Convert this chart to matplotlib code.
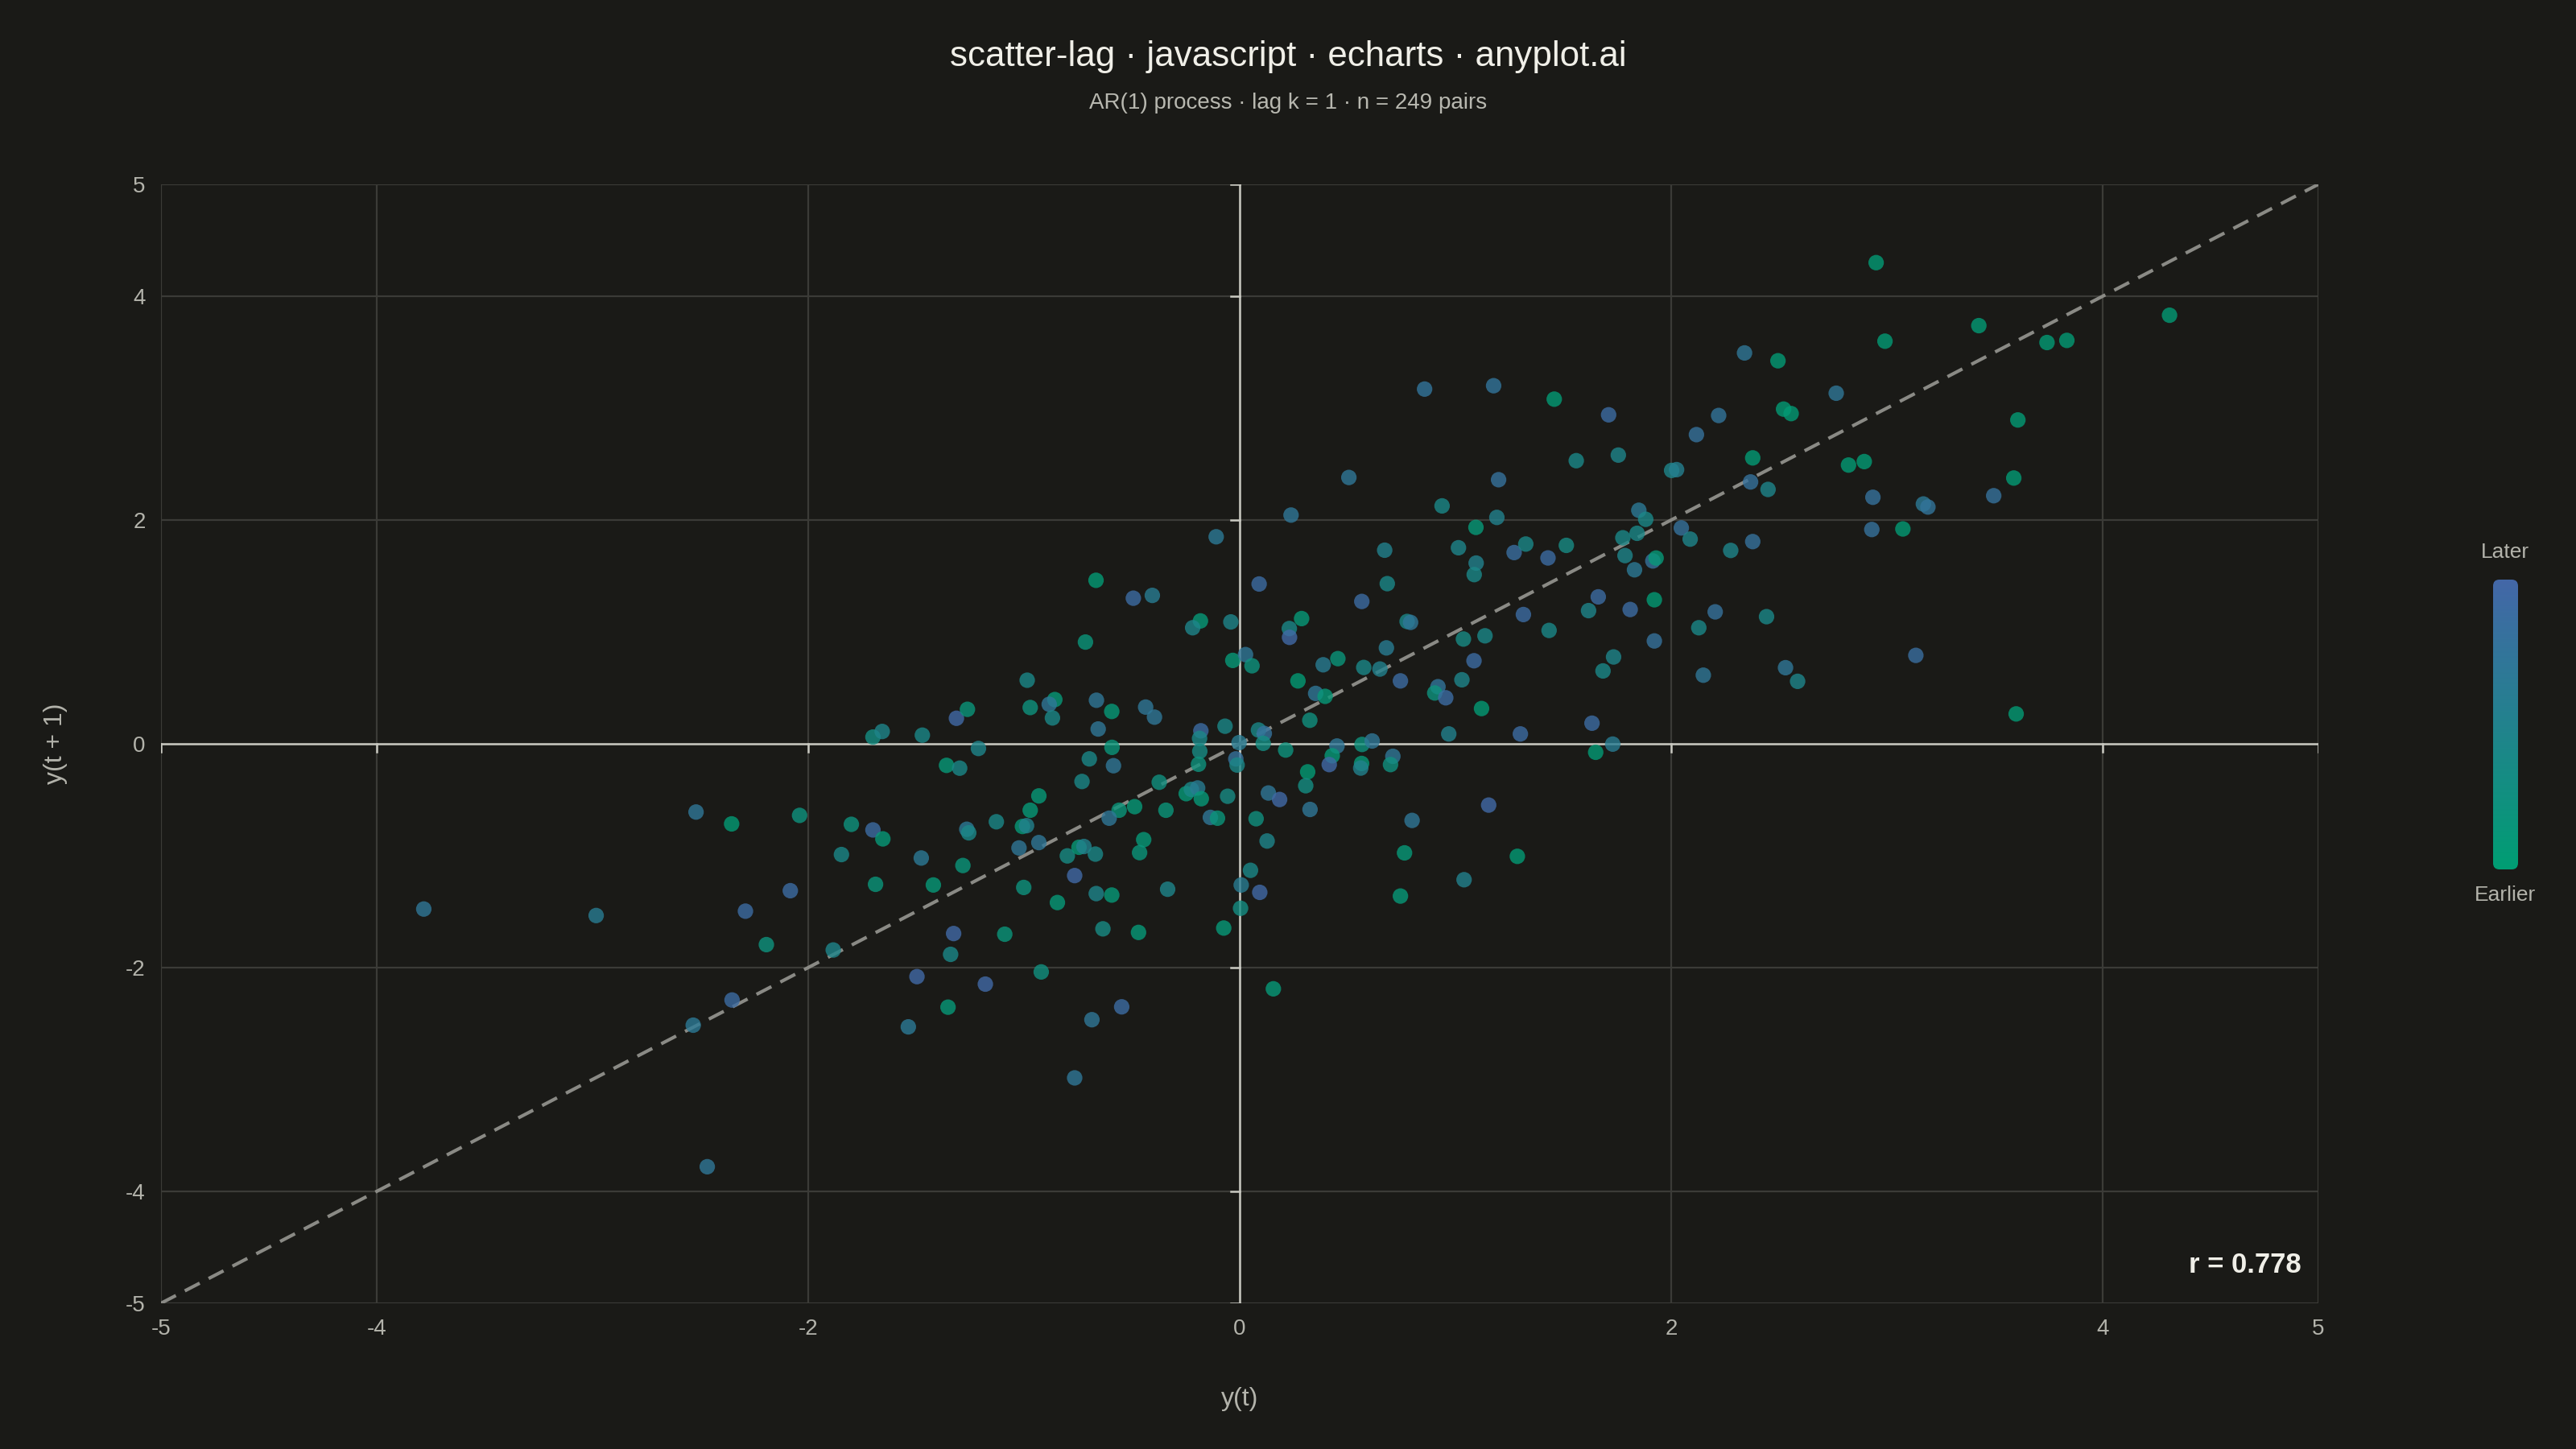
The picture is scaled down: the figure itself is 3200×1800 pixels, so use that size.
import numpy as np
import matplotlib
matplotlib.use("Agg")
import matplotlib.pyplot as plt
from matplotlib.colors import LinearSegmentedColormap
from matplotlib.patches import FancyBboxPatch

plt.rcParams['font.family'] = ['Liberation Sans', 'DejaVu Sans']

# lag pairs: y(t), y(t+1), and how late in the series (0 = earlier, 1 = later)
y_t = [
    -1.70, -1.657, -2.52, -2.355, -2.04, -1.80, -1.70, -1.654, -1.846, -1.688,
    -2.083, -2.291, -3.782, -2.983, -2.194, -1.884, -2.353, -2.533, -2.468,
    -0.109, -0.666, -0.493, -0.405, -0.182, -0.218, -0.041, -0.032, -0.715, -0.985,
    -0.971, -0.857, -0.883, -0.868, -0.664, -0.593, -0.656, -0.436, -0.395, -0.068,
    -0.180, -0.186, -0.185, -0.191, -0.003, -0.018, -0.012, -0.373, -0.248, -0.224,
    -0.195, -0.178, -0.056, -0.136, -0.103, -0.342, -0.487, -0.559, -0.605, -0.697,
    -0.731, -0.585, -0.592, -0.445, -0.464, -0.334, -0.074, 0.007, 0.004, -0.931,
    -0.971, -1.128, -1.007, -0.988, -1.023, -0.931, -0.799, -0.745, -0.722, -0.669,
    -0.765, -1.001, -0.845, -0.665, -0.593, -0.634, -0.469, -0.920, -0.685, -0.547,
    -0.765, -1.089, -1.326, -1.340, -1.496, -1.179, -1.352, -1.536, -1.476, -1.420,
    -1.283, -1.265, -1.256, -1.471, -1.313, -1.262, -1.211, -1.359, -1.298,
    0.238, 0.938, 1.192, 1.095, 0.672, 1.014, 1.272, 1.326, 1.514, 1.096,
    1.087, 1.429, 0.090, 0.684, 0.566, 0.230, 0.287, 0.231, 0.776, 0.792,
    0.027, 0.057, 0.680, 0.455, 0.387, 0.575, 0.650, 0.270, 0.352, 0.396,
    0.325, 0.745, 1.037, 1.137, 1.315, 1.086, 1.030, 0.919, 0.904, 0.955,
    1.121, 0.969, 1.301, 1.434, 1.617, 1.662, 1.810, 1.733, 1.684, 1.633,
    1.729, 1.650, 1.776, 1.786, 1.830, 1.842, 1.850, 1.882, 1.915, 1.922,
    1.922, 0.087, 0.114, 0.109, 0.213, 0.451, 0.429, 0.415, 0.567, 0.614,
    0.565, 0.561, 0.710, 0.699, 0.315, 0.306, 0.133, 0.185, 0.326, 0.076,
    0.127, 0.050, 0.093, 0.799, 0.764, 0.745, 1.040, 1.154, 1.287,
    2.991, 3.426, 3.742, 3.834, 2.340, 2.495, 2.765, 2.220, 2.521, 2.556,
    2.117, 2.378, 2.002, 2.025, 2.368, 2.449, 2.822, 2.895, 3.607, 3.588,
    3.495, 2.935, 3.169, 3.190, 2.930, 3.074, 2.047, 2.088, 2.276, 2.378,
    1.930, 2.204, 2.128, 2.442, 2.149, 2.530, 2.586, 3.134, 3.599,
    4.310, 2.950, 0.857, 1.177, 1.458, 1.710, 1.755, 1.560, 1.200, 0.506, 0.156,
]
y_next = [
    0.06, 0.11, -0.61, -0.716, -0.64, -0.72, -0.77, -0.85, -0.99, -1.256,
    -1.313, -1.496, -1.477, -1.535, -1.795, -1.843, -2.29, -2.515, -3.78,
    1.850, 1.461, 1.301, 1.326, 1.098, 1.037, 1.089, 0.745, 0.909, 0.568,
    0.324, 0.395, 0.353, 0.231, 0.389, 0.289, 0.132, 0.328, 0.238, 0.157,
    0.116, 0.048, -0.067, -0.183, 0.010, -0.135, -0.190, -0.344, -0.446, -0.408,
    -0.395, -0.491, -0.469, -0.658, -0.665, -0.594, -0.562, -0.594, -0.665, -0.135,
    -0.337, -0.196, -0.032, -0.857, -0.973, -1.300, -1.647, -1.262, -1.470, -0.466,
    -0.594, -0.697, -0.739, -0.732, -0.931, -0.883, -1.002, -0.925, -0.918, -0.986,
    -1.178, -1.284, -1.419, -1.339, -1.352, -1.654, -1.686, -2.039, -2.466, -2.351,
    -2.986, -1.702, -1.696, -1.882, -2.081, -2.148, -2.354, -2.530, -1.021, -1.262,
    -1.088, -0.764, -0.796, 0.077, 0.228, 0.308, -0.042, -0.193, -0.218,
    2.044, 2.126, 2.023, 1.934, 1.730, 1.752, 1.709, 1.785, 1.773, 1.615,
    1.512, 1.661, 1.428, 1.431, 1.272, 1.030, 1.119, 0.951, 1.093, 1.085,
    0.797, 0.697, 0.857, 0.761, 0.706, 0.682, 0.668, 0.562, 0.450, 0.424,
    0.210, 0.562, 0.936, 0.965, 1.155, 0.742, 0.572, 0.510, 0.454, 0.411,
    0.315, 0.088, 0.088, 1.013, 1.190, 1.313, 1.200, 0.776, 0.651, 0.184,
    -0.003, -0.076, 1.841, 1.682, 1.555, 1.881, 2.087, 2.006, 1.634, 1.287,
    0.919, 0.123, 0.092, 0.004, -0.056, -0.020, -0.107, -0.186, -0.006, 0.025,
    -0.176, -0.217, -0.112, -0.186, -0.251, -0.375, -0.440, -0.498, -0.587, -0.670,
    -0.869, -1.131, -1.328, -0.685, -0.975, -1.361, -1.215, -0.548, -1.006,
    3.598, 3.737, 3.586, 3.605, 3.493, 3.423, 3.133, 2.934, 2.991, 2.951,
    2.763, 2.555, 2.443, 2.450, 2.340, 2.273, 2.491, 2.522, 2.894, 2.375,
    2.217, 2.203, 2.143, 2.116, 1.915, 1.920, 1.929, 1.829, 1.728, 1.807,
    1.660, 1.179, 1.037, 1.136, 0.613, 0.680, 0.558, 0.790, 0.267,
    3.830, 4.300, 3.170, 3.200, 3.080, 2.940, 2.580, 2.530, 2.360, 2.380, -2.190,
]
time_pos = [
    0.3, 0.45, 0.7, 0.05, 0.2, 0.2, 0.9, 0.1, 0.4, 0.15,
    0.9, 0.9, 0.7, 0.6, 0.2, 0.45, 0.9, 0.65, 0.7,
    0.65, 0.05, 0.9, 0.6, 0.1, 0.45, 0.45, 0.1, 0.15, 0.4,
    0.2, 0.1, 0.7, 0.4, 0.7, 0.1, 0.7, 0.7, 0.7, 0.4,
    0.9, 0.4, 0.35, 0.2, 0.6, 0.8, 0.4, 0.25, 0.1, 0.4,
    0.6, 0.1, 0.35, 0.7, 0.15, 0.15, 0.1, 0.15, 0.7, 0.4,
    0.4, 0.7, 0.15, 0.1, 0.15, 0.45, 0.1, 0.6, 0.3, 0.1,
    0.1, 0.4, 0.1, 0.5, 0.7, 0.7, 0.35, 0.1, 0.5, 0.4,
    0.95, 0.2, 0.1, 0.45, 0.1, 0.35, 0.1, 0.25, 0.7, 0.9,
    0.7, 0.15, 0.95, 0.4, 0.95, 0.95, 0.1, 0.65, 0.65, 0.1,
    0.15, 0.65, 0.4, 0.4, 0.95, 0.15, 0.45, 0.1, 0.4,
    0.7, 0.4, 0.5, 0.1, 0.5, 0.45, 0.85, 0.4, 0.35, 0.5,
    0.4, 0.9, 0.9, 0.4, 0.9, 0.4, 0.1, 0.95, 0.4, 0.7,
    0.7, 0.2, 0.6, 0.15, 0.6, 0.4, 0.5, 0.05, 0.7, 0.1,
    0.25, 0.9, 0.35, 0.4, 0.9, 0.9, 0.45, 0.75, 0.2, 0.9,
    0.05, 0.5, 0.9, 0.4, 0.45, 0.9, 0.9, 0.45, 0.4, 0.9,
    0.6, 0.05, 0.4, 0.45, 0.65, 0.4, 0.65, 0.4, 0.8, 0.05,
    0.8, 0.4, 0.8, 0.3, 0.2, 0.7, 0.1, 0.95, 0.2, 0.7,
    0.1, 0.5, 0.7, 0.25, 0.05, 0.3, 0.7, 0.95, 0.7, 0.25,
    0.45, 0.4, 0.95, 0.7, 0.1, 0.1, 0.5, 0.95, 0.05,
    0.05, 0.05, 0.05, 0.05, 0.7, 0.05, 0.7, 0.75, 0.05, 0.05,
    0.8, 0.05, 0.45, 0.55, 0.8, 0.45, 0.05, 0.05, 0.05, 0.05,
    0.8, 0.8, 0.65, 0.75, 0.8, 0.05, 0.8, 0.45, 0.45, 0.8,
    0.1, 0.8, 0.4, 0.4, 0.7, 0.7, 0.45, 0.85, 0.05,
    0.05, 0.05, 0.75, 0.75, 0.05, 0.9, 0.45, 0.4, 0.8, 0.7, 0.1,
]

title = "scatter-lag · javascript · echarts · anyplot.ai"
subtitle = "AR(1) process · lag k = 1 · n = 249 pairs"
r_value = 0.778
tick_vals = [-5, -4, -2, 0, 2, 4, 5]

bg = "#1A1A17"
grid_col = "#3B3B37"
axis_col = "#C9C9C1"
tick_text = "#B3B3AB"
cmap = LinearSegmentedColormap.from_list("time", ["#009E73", "#4467A8"])

fig = plt.figure(figsize=(16, 9), dpi=200, facecolor=bg)
ax = fig.add_axes([0.0625, 0.1006, 0.8375, 0.7722])
ax.set_facecolor(bg)

ax.set_xlim(-5, 5)
ax.set_ylim(-5, 5)
ax.set_xticks(tick_vals)
ax.set_yticks(tick_vals)
ax.set_xticklabels([str(v) for v in tick_vals])
ax.set_yticklabels([str(v) for v in tick_vals])
ax.tick_params(length=0, colors=tick_text, labelsize=10, pad=7)
ax.grid(True, color=grid_col, linewidth=0.8)
ax.set_axisbelow(True)
for s in ax.spines.values():
    s.set_visible(False)

# zero axes with small ticks like echarts
ax.axhline(0, color=axis_col, linewidth=0.9, zorder=1)
ax.axvline(0, color=axis_col, linewidth=0.9, zorder=1)
for v in tick_vals:
    ax.plot([v, v], [0, -0.075], color=axis_col, linewidth=0.9, zorder=1)
    ax.plot([0, -0.04], [v, v], color=axis_col, linewidth=0.9, zorder=1)

ax.plot([-5, 5], [-5, 5], color="#8A8A85", linewidth=1.5, dashes=(5, 3), zorder=2)

ax.scatter(y_t, y_next, c=time_pos, cmap=cmap, vmin=0, vmax=1, s=48,
           alpha=0.8, edgecolors="none", zorder=3)

ax.text(0.992, 0.027, f"r = {r_value:.3f}", transform=ax.transAxes, ha="right",
        va="baseline", fontsize=12.5, fontweight="bold", color="#F0EFE8")

ax.set_xlabel("y(t)", color=tick_text, fontsize=11.5, labelpad=21)
ax.set_ylabel("y(t + 1)", color=tick_text, fontsize=11.5, labelpad=26)

fig.text(0.5, 0.961, title, ha="center", va="center", fontsize=15.8, color="#F0EFE8")
fig.text(0.5, 0.929, subtitle, ha="center", va="center", fontsize=10, color="#B8B8B0")

# colorbar legend
cax = fig.add_axes([0.9678, 0.4, 0.0097, 0.2])
cax.set_axis_off()
grad = np.linspace(0, 1, 256).reshape(-1, 1)
im = cax.imshow(grad, cmap=cmap, aspect="auto", origin="lower", extent=[0, 1, 0, 1])
clip = FancyBboxPatch((0, 0), 1, 1, boxstyle="round,pad=0,rounding_size=0.25",
                      mutation_aspect=0.09, transform=cax.transAxes,
                      facecolor="none", edgecolor="none")
cax.add_patch(clip)
im.set_clip_path(clip)
fig.text(0.9725, 0.619, "Later", ha="center", va="center", fontsize=9.5, color=tick_text)
fig.text(0.9725, 0.382, "Earlier", ha="center", va="center", fontsize=9.5, color=tick_text)

fig.savefig("out.png", dpi=200, facecolor=bg)
